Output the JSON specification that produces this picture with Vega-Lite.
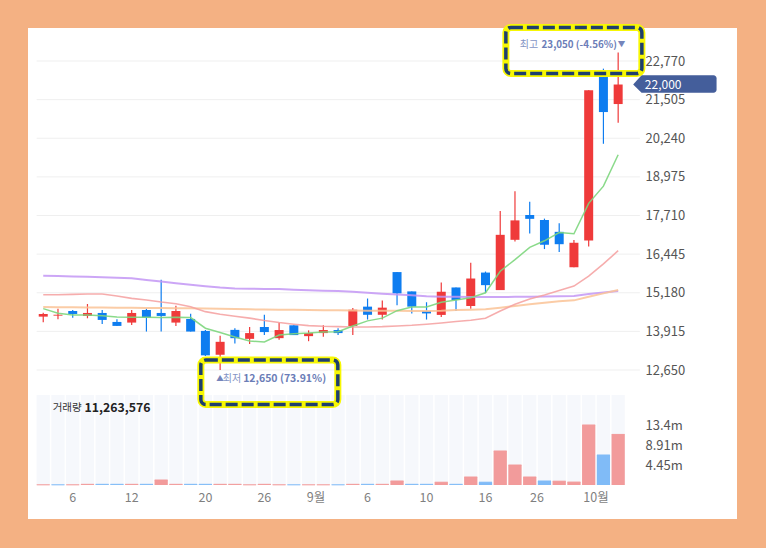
{
  "$schema": "https://vega.github.io/schema/vega-lite/v6.json",
  "width": 709,
  "height": 491,
  "autosize": {"type": "none"},
  "padding": {"left": 28, "top": 28, "right": 29, "bottom": 29},
  "background": "#f4b183",
  "config": {
    "view": {"fill": "#ffffff", "stroke": null},
    "font": "Noto Sans CJK KR"
  },
  "data": {
    "values": [
      {"d": "2021-08-04", "o": 14398, "h": 14528, "l": 14213, "c": 14485, "v": 40000, "dir": "up", "m5": 14659, "m20": 15115, "m60": 14713, "m120": 15734},
      {"d": "2021-08-05", "o": 14430, "h": 14659, "l": 14311, "c": 14460, "v": 40000, "dir": "dn", "m5": 14507, "m20": 15115, "m60": 14708, "m120": 15725},
      {"d": "2021-08-06", "o": 14583, "h": 14615, "l": 14365, "c": 14485, "v": 40000, "dir": "up", "m5": 14452, "m20": 15126, "m60": 14703, "m120": 15715},
      {"d": "2021-08-09", "o": 14420, "h": 14811, "l": 14344, "c": 14518, "v": 150000, "dir": "up", "m5": 14452, "m20": 15137, "m60": 14698, "m120": 15701},
      {"d": "2021-08-10", "o": 14518, "h": 14615, "l": 14159, "c": 14290, "v": 150000, "dir": "dn", "m5": 14430, "m20": 15137, "m60": 14694, "m120": 15690},
      {"d": "2021-08-11", "o": 14224, "h": 14311, "l": 14094, "c": 14094, "v": 150000, "dir": "dn", "m5": 14387, "m20": 15071, "m60": 14691, "m120": 15675},
      {"d": "2021-08-12", "o": 14203, "h": 14615, "l": 14127, "c": 14518, "v": 150000, "dir": "up", "m5": 14376, "m20": 14995, "m60": 14688, "m120": 15655},
      {"d": "2021-08-13", "o": 14615, "h": 14659, "l": 13909, "c": 14366, "v": 150000, "dir": "dn", "m5": 14376, "m20": 14941, "m60": 14684, "m120": 15600},
      {"d": "2021-08-17", "o": 14518, "h": 15603, "l": 13909, "c": 14420, "v": 1110000, "dir": "up", "m5": 14366, "m20": 14876, "m60": 14678, "m120": 15545},
      {"d": "2021-08-18", "o": 14203, "h": 14756, "l": 14094, "c": 14583, "v": 150000, "dir": "up", "m5": 14376, "m20": 14822, "m60": 14674, "m120": 15490},
      {"d": "2021-08-19", "o": 14322, "h": 14496, "l": 13909, "c": 13909, "v": 150000, "dir": "dn", "m5": 14366, "m20": 14724, "m60": 14670, "m120": 15440},
      {"d": "2021-08-20", "o": 13930, "h": 13960, "l": 13110, "c": 13130, "v": 150000, "dir": "dn", "m5": 14018, "m20": 14561, "m60": 14663, "m120": 15395},
      {"d": "2021-08-23", "o": 13149, "h": 13768, "l": 12650, "c": 13573, "v": 150000, "dir": "up", "m5": 13877, "m20": 14474, "m60": 14656, "m120": 15350},
      {"d": "2021-08-24", "o": 13964, "h": 14018, "l": 13518, "c": 13692, "v": 150000, "dir": "up", "m5": 13730, "m20": 14410, "m60": 14648, "m120": 15320},
      {"d": "2021-08-25", "o": 13670, "h": 14059, "l": 13504, "c": 13859, "v": 40000, "dir": "up", "m5": 13600, "m20": 14348, "m60": 14636, "m120": 15310},
      {"d": "2021-08-26", "o": 14059, "h": 14458, "l": 13793, "c": 13892, "v": 150000, "dir": "up", "m5": 13570, "m20": 14270, "m60": 14630, "m120": 15305},
      {"d": "2021-08-27", "o": 13693, "h": 14203, "l": 13637, "c": 13959, "v": 40000, "dir": "up", "m5": 13793, "m20": 14203, "m60": 14625, "m120": 15300},
      {"d": "2021-08-30", "o": 14114, "h": 14114, "l": 13793, "c": 13793, "v": 40000, "dir": "dn", "m5": 13837, "m20": 14148, "m60": 14620, "m120": 15280},
      {"d": "2021-08-31", "o": 13759, "h": 13948, "l": 13593, "c": 13859, "v": 40000, "dir": "up", "m5": 13859, "m20": 14103, "m60": 14614, "m120": 15260},
      {"d": "2021-09-01", "o": 13859, "h": 14114, "l": 13737, "c": 13959, "v": 40000, "dir": "up", "m5": 13892, "m20": 14081, "m60": 14608, "m120": 15245},
      {"d": "2021-09-02", "o": 13959, "h": 14015, "l": 13793, "c": 13859, "v": 40000, "dir": "dn", "m5": 13903, "m20": 14070, "m60": 14603, "m120": 15235},
      {"d": "2021-09-03", "o": 14092, "h": 14680, "l": 13793, "c": 14625, "v": 150000, "dir": "up", "m5": 14092, "m20": 14059, "m60": 14598, "m120": 15210},
      {"d": "2021-09-06", "o": 14725, "h": 14991, "l": 14303, "c": 14458, "v": 150000, "dir": "dn", "m5": 14259, "m20": 14059, "m60": 14592, "m120": 15180},
      {"d": "2021-09-07", "o": 14458, "h": 14925, "l": 14303, "c": 14692, "v": 150000, "dir": "up", "m5": 14348, "m20": 14070, "m60": 14590, "m120": 15150},
      {"d": "2021-09-08", "o": 15857, "h": 15857, "l": 14769, "c": 15158, "v": 890000, "dir": "up", "m5": 14592, "m20": 14092, "m60": 14587, "m120": 15125},
      {"d": "2021-09-09", "o": 15224, "h": 15224, "l": 14503, "c": 14725, "v": 150000, "dir": "dn", "m5": 14714, "m20": 14114, "m60": 14584, "m120": 15100},
      {"d": "2021-09-10", "o": 14581, "h": 14869, "l": 14303, "c": 14503, "v": 150000, "dir": "dn", "m5": 14714, "m20": 14148, "m60": 14581, "m120": 15069},
      {"d": "2021-09-13", "o": 14454, "h": 15516, "l": 14389, "c": 15213, "v": 620000, "dir": "up", "m5": 14870, "m20": 14190, "m60": 14590, "m120": 15050},
      {"d": "2021-09-14", "o": 15353, "h": 15353, "l": 14584, "c": 14942, "v": 150000, "dir": "dn", "m5": 14942, "m20": 14237, "m60": 14616, "m120": 15045},
      {"d": "2021-09-15", "o": 14746, "h": 16166, "l": 14660, "c": 15646, "v": 1780000, "dir": "up", "m5": 15017, "m20": 14280, "m60": 14627, "m120": 15040},
      {"d": "2021-09-16", "o": 15841, "h": 15874, "l": 15169, "c": 15429, "v": 620000, "dir": "dn", "m5": 15180, "m20": 14345, "m60": 14638, "m120": 15039},
      {"d": "2021-09-17", "o": 15267, "h": 17857, "l": 15267, "c": 17077, "v": 7570000, "dir": "up", "m5": 15885, "m20": 14584, "m60": 14690, "m120": 15040},
      {"d": "2021-09-23", "o": 16914, "h": 18508, "l": 16860, "c": 17550, "v": 4450000, "dir": "up", "m5": 16264, "m20": 14800, "m60": 14746, "m120": 15045},
      {"d": "2021-09-24", "o": 17727, "h": 18161, "l": 17120, "c": 17600, "v": 1780000, "dir": "up", "m5": 16665, "m20": 14974, "m60": 14800, "m120": 15050},
      {"d": "2021-09-27", "o": 17565, "h": 17608, "l": 16611, "c": 16750, "v": 890000, "dir": "dn", "m5": 16882, "m20": 15104, "m60": 14855, "m120": 15060},
      {"d": "2021-09-28", "o": 17175, "h": 17456, "l": 16513, "c": 16770, "v": 850000, "dir": "up", "m5": 17153, "m20": 15256, "m60": 14900, "m120": 15065},
      {"d": "2021-09-29", "o": 16015, "h": 16904, "l": 16015, "c": 16817, "v": 650000, "dir": "up", "m5": 17110, "m20": 15397, "m60": 14931, "m120": 15072},
      {"d": "2021-09-30", "o": 16890, "h": 21808, "l": 16693, "c": 21808, "v": 13360000, "dir": "up", "m5": 18107, "m20": 15722, "m60": 15050, "m120": 15137},
      {"d": "2021-10-01", "o": 22245, "h": 22519, "l": 20059, "c": 21098, "v": 6680000, "dir": "dn", "m5": 18670, "m20": 16123, "m60": 15160, "m120": 15191},
      {"d": "2021-10-05", "o": 21360, "h": 23050, "l": 20748, "c": 22000, "v": 11263576, "dir": "up", "m5": 19699, "m20": 16557, "m60": 15267, "m120": 15234}
    ]
  },
  "encoding": {
    "x": {
      "field": "d",
      "type": "ordinal",
      "scale": {"type": "band", "range": [8.6, 596.8], "paddingInner": 0.1, "paddingOuter": 0},
      "axis": {
        "orient": "bottom",
        "offset": -34,
        "domain": false,
        "ticks": false,
        "grid": false,
        "values": ["2021-08-06", "2021-08-12", "2021-08-20", "2021-08-26", "2021-09-01", "2021-09-06", "2021-09-10", "2021-09-16", "2021-09-27", "2021-10-01"],
        "labelExpr": "datum.value == '2021-09-01' ? '9월' : datum.value == '2021-10-01' ? '10월' : datum.value == '2021-09-27' ? '26' : '' + toNumber(substring(datum.value, 8, 10))",
        "labelOffset": {"condition": {"test": "indexof(['2021-09-01', '2021-09-27', '2021-10-01'], datum.value) >= 0", "value": -7.4}, "value": 0},
        "labelAngle": 0,
        "labelPadding": 6,
        "labelFontSize": 12.5,
        "labelFont": "Noto Sans CJK KR",
        "labelColor": "#7f7f7f",
        "title": null
      }
    }
  },
  "layer": [
    {
      "mark": {"type": "bar", "color": "#f6f8fc"},
      "encoding": {
        "y": {"datum": 20040000, "type": "quantitative", "scale": {"domain": [0, 13360000], "range": [457, 397], "nice": false}, "axis": null}
      }
    },
    {
      "mark": {"type": "bar"},
      "encoding": {
        "y": {
          "field": "v",
          "type": "quantitative",
          "scale": {"domain": [0, 13360000], "range": [457, 397], "nice": false},
          "axis": {
            "orient": "right",
            "offset": -97,
            "domain": false,
            "ticks": false,
            "grid": false,
            "values": [4453333, 8906667, 13360000],
            "labelExpr": "replace(format(datum.value, '.3s'), 'M', 'm')",
            "labelPadding": 5,
            "labelFontSize": 13,
            "labelFont": "Noto Sans CJK KR",
            "labelColor": "#555555",
            "labelAlign": "left",
            "title": null
          }
        },
        "color": {"field": "dir", "type": "nominal", "scale": {"domain": ["up", "dn"], "range": ["#f29b9b", "#80bbf7"]}, "legend": null}
      }
    },
    {
      "mark": {"type": "tick", "thickness": 1, "size": 13, "opacity": 1},
      "encoding": {
        "y": {"field": "v", "type": "quantitative", "scale": {"domain": [0, 13360000], "range": [457, 397], "nice": false}, "axis": null},
        "color": {"field": "dir", "type": "nominal", "scale": {"domain": ["up", "dn"], "range": ["#ee8080", "#5ea2ee"]}, "legend": null}
      }
    },
    {
      "transform": [{"filter": "datum.d == '2021-10-05'"}],
      "mark": {"type": "text", "align": "left", "baseline": "middle", "dx": 9.4, "fontSize": 10.5, "color": "#333333"},
      "encoding": {
        "x": {"datum": "2021-08-04", "type": "ordinal"},
        "y": {"datum": 17080000, "type": "quantitative", "scale": {"domain": [0, 13360000], "range": [457, 397], "nice": false}, "axis": null},
        "text": {"value": "거래량"}
      }
    },
    {
      "transform": [{"filter": "datum.d == '2021-10-05'"}],
      "mark": {"type": "text", "align": "left", "baseline": "middle", "dx": 41.3, "fontSize": 12.3, "fontWeight": "bold", "color": "#222222"},
      "encoding": {
        "x": {"datum": "2021-08-04", "type": "ordinal"},
        "y": {"datum": 17080000, "type": "quantitative", "scale": {"domain": [0, 13360000], "range": [457, 397], "nice": false}, "axis": null},
        "text": {"field": "v", "type": "quantitative", "format": ","}
      }
    },
    {
      "data": {"values": [{"p": 12650}, {"p": 13915}, {"p": 15180}, {"p": 16445}, {"p": 17710}, {"p": 18975}, {"p": 20240}, {"p": 21505}, {"p": 22770}]},
      "mark": {"type": "rule", "color": "#efefef", "strokeWidth": 1, "xOffset": -6.6, "x2Offset": 21.7},
      "encoding": {
        "x": {"datum": "2021-08-04", "type": "ordinal"},
        "x2": {"datum": "2021-10-05"},
        "y": {
          "field": "p",
          "type": "quantitative",
          "scale": {"domain": [12650, 22770], "range": [342, 33], "nice": false, "zero": false},
          "axis": {
            "orient": "right",
            "offset": -97,
            "domain": false,
            "ticks": false,
            "grid": false,
            "values": [12650, 13915, 15180, 16445, 17710, 18975, 20240, 21505, 22770],
            "labelExpr": "format(datum.value, ',')",
            "labelPadding": 5,
            "labelFontSize": 13,
            "labelFont": "Noto Sans CJK KR",
            "labelColor": "#555555",
            "labelAlign": "left",
            "title": null
          }
        }
      }
    },
    {
      "mark": {"type": "rule", "strokeWidth": 1.2},
      "encoding": {
        "y": {"field": "l", "type": "quantitative", "scale": {"domain": [12650, 22770], "range": [342, 33], "nice": false, "zero": false}, "axis": null},
        "y2": {"field": "h"},
        "color": {"condition": {"test": "datum.c >= datum.o", "value": "#ef3a3a"}, "value": "#0e7df0"}
      }
    },
    {
      "mark": {"type": "bar", "width": 9},
      "encoding": {
        "y": {"field": "o", "type": "quantitative", "scale": {"domain": [12650, 22770], "range": [342, 33], "nice": false, "zero": false}, "axis": null},
        "y2": {"field": "c"},
        "color": {"condition": {"test": "datum.c >= datum.o", "value": "#ef3a3a"}, "value": "#0e7df0"}
      }
    },
    {
      "mark": {"type": "line", "color": "#c396f5", "strokeWidth": 2, "opacity": 0.85},
      "encoding": {
        "y": {"field": "m120", "type": "quantitative", "scale": {"domain": [12650, 22770], "range": [342, 33], "nice": false, "zero": false}, "axis": null}
      }
    },
    {
      "mark": {"type": "line", "color": "#fac396", "strokeWidth": 2, "opacity": 0.85},
      "encoding": {
        "y": {"field": "m60", "type": "quantitative", "scale": {"domain": [12650, 22770], "range": [342, 33], "nice": false, "zero": false}, "axis": null}
      }
    },
    {
      "mark": {"type": "line", "color": "#f59f9f", "strokeWidth": 1.6, "opacity": 0.85},
      "encoding": {
        "y": {"field": "m20", "type": "quantitative", "scale": {"domain": [12650, 22770], "range": [342, 33], "nice": false, "zero": false}, "axis": null}
      }
    },
    {
      "mark": {"type": "line", "color": "#7dd67d", "strokeWidth": 1.5, "opacity": 0.9},
      "encoding": {
        "y": {"field": "m5", "type": "quantitative", "scale": {"domain": [12650, 22770], "range": [342, 33], "nice": false, "zero": false}, "axis": null}
      }
    },
    {
      "transform": [{"filter": "datum.d == '2021-10-05'"}],
      "mark": {"type": "point", "shape": "M15,0 L23.4,-9.2 H95.4 A3,3 0 0 1 98.4,-6.2 V5.2 A3,3 0 0 1 95.4,8.2 H23.4 Z", "size": 4, "filled": true, "fill": "#445e9b", "strokeWidth": 0, "opacity": 1},
      "encoding": {
        "y": {"field": "c", "type": "quantitative", "scale": {"domain": [12650, 22770], "range": [342, 33], "nice": false, "zero": false}, "axis": null}
      }
    },
    {
      "transform": [{"filter": "datum.d == '2021-10-05'"}],
      "mark": {"type": "text", "align": "left", "baseline": "middle", "dx": 26.7, "dy": 0, "fontSize": 12, "color": "#ffffff"},
      "encoding": {
        "y": {"field": "c", "type": "quantitative", "scale": {"domain": [12650, 22770], "range": [342, 33], "nice": false, "zero": false}, "axis": null},
        "text": {"field": "c", "type": "quantitative", "format": ","}
      }
    },
    {
      "transform": [{"filter": "datum.d == '2021-10-05'"}],
      "mark": {"type": "text", "align": "left", "baseline": "middle", "dx": -98.3, "dy": -7.7, "fontSize": 10, "color": "#8494c4"},
      "encoding": {
        "y": {"field": "h", "type": "quantitative", "scale": {"domain": [12650, 22770], "range": [342, 33], "nice": false, "zero": false}, "axis": null},
        "text": {"value": "최고"}
      }
    },
    {
      "transform": [{"filter": "datum.d == '2021-10-05'"}],
      "mark": {"type": "text", "align": "left", "baseline": "middle", "dx": -76.6, "dy": -7.7, "fontSize": 9.8, "fontWeight": "bold", "color": "#6b7db7"},
      "encoding": {
        "y": {"field": "h", "type": "quantitative", "scale": {"domain": [12650, 22770], "range": [342, 33], "nice": false, "zero": false}, "axis": null},
        "text": {"value": "23,050 (-4.56%)"}
      }
    },
    {
      "transform": [{"filter": "datum.d == '2021-10-05'"}],
      "mark": {"type": "text", "align": "left", "baseline": "middle", "dx": -0.5, "dy": -7.7, "fontSize": 7.5, "color": "#7585bb"},
      "encoding": {
        "y": {"field": "h", "type": "quantitative", "scale": {"domain": [12650, 22770], "range": [342, 33], "nice": false, "zero": false}, "axis": null},
        "text": {"value": "▼"}
      }
    },
    {
      "transform": [{"filter": "datum.d == '2021-08-23'"}],
      "mark": {"type": "text", "align": "left", "baseline": "middle", "dx": -4, "dy": 9.3, "fontSize": 7.5, "color": "#7585bb"},
      "encoding": {
        "y": {"field": "l", "type": "quantitative", "scale": {"domain": [12650, 22770], "range": [342, 33], "nice": false, "zero": false}, "axis": null},
        "text": {"value": "▲"}
      }
    },
    {
      "transform": [{"filter": "datum.d == '2021-08-23'"}],
      "mark": {"type": "text", "align": "left", "baseline": "middle", "dx": 2.6, "dy": 9.3, "fontSize": 10, "color": "#8494c4"},
      "encoding": {
        "y": {"field": "l", "type": "quantitative", "scale": {"domain": [12650, 22770], "range": [342, 33], "nice": false, "zero": false}, "axis": null},
        "text": {"value": "최저"}
      }
    },
    {
      "transform": [{"filter": "datum.d == '2021-08-23'"}],
      "mark": {"type": "text", "align": "left", "baseline": "middle", "dx": 23, "dy": 9.3, "fontSize": 10.5, "fontWeight": "bold", "color": "#6b7db7"},
      "encoding": {
        "y": {"field": "l", "type": "quantitative", "scale": {"domain": [12650, 22770], "range": [342, 33], "nice": false, "zero": false}, "axis": null},
        "text": {"value": "12,650 (73.91%)"}
      }
    },
    {
      "transform": [{"filter": "datum.d == '2021-10-05'"}],
      "mark": {"type": "point", "shape": "M-107.3,-25 H18.7 A5,5 0 0 1 23.7,-20 V16 A5,5 0 0 1 18.7,21 H-107.3 A5,5 0 0 1 -112.3,16 V-20 A5,5 0 0 1 -107.3,-25 Z", "size": 4, "filled": false, "stroke": "#f7f704", "strokeWidth": 7, "opacity": 1},
      "encoding": {
        "y": {"field": "h", "type": "quantitative", "scale": {"domain": [12650, 22770], "range": [342, 33], "nice": false, "zero": false}, "axis": null}
      }
    },
    {
      "transform": [{"filter": "datum.d == '2021-10-05'"}],
      "mark": {"type": "point", "shape": "M-107.3,-25 H18.7 A5,5 0 0 1 23.7,-20 V16 A5,5 0 0 1 18.7,21 H-107.3 A5,5 0 0 1 -112.3,16 V-20 A5,5 0 0 1 -107.3,-25 Z", "size": 4, "filled": false, "stroke": "#1e3f6e", "strokeWidth": 3.5, "strokeDash": [12, 4], "opacity": 1},
      "encoding": {
        "y": {"field": "h", "type": "quantitative", "scale": {"domain": [12650, 22770], "range": [342, 33], "nice": false, "zero": false}, "axis": null}
      }
    },
    {
      "transform": [{"filter": "datum.d == '2021-08-23'"}],
      "mark": {"type": "point", "shape": "M-14.3,-10 H112.7 A5,5 0 0 1 117.7,-5 V29.5 A5,5 0 0 1 112.7,34.5 H-14.3 A5,5 0 0 1 -19.3,29.5 V-5 A5,5 0 0 1 -14.3,-10 Z", "size": 4, "filled": false, "stroke": "#f7f704", "strokeWidth": 7, "opacity": 1},
      "encoding": {
        "y": {"field": "l", "type": "quantitative", "scale": {"domain": [12650, 22770], "range": [342, 33], "nice": false, "zero": false}, "axis": null}
      }
    },
    {
      "transform": [{"filter": "datum.d == '2021-08-23'"}],
      "mark": {"type": "point", "shape": "M-14.3,-10 H112.7 A5,5 0 0 1 117.7,-5 V29.5 A5,5 0 0 1 112.7,34.5 H-14.3 A5,5 0 0 1 -19.3,29.5 V-5 A5,5 0 0 1 -14.3,-10 Z", "size": 4, "filled": false, "stroke": "#1e3f6e", "strokeWidth": 3.5, "strokeDash": [12, 4], "opacity": 1},
      "encoding": {
        "y": {"field": "l", "type": "quantitative", "scale": {"domain": [12650, 22770], "range": [342, 33], "nice": false, "zero": false}, "axis": null}
      }
    }
  ],
  "resolve": {"scale": {"y": "independent"}, "axis": {"y": "independent"}}
}
